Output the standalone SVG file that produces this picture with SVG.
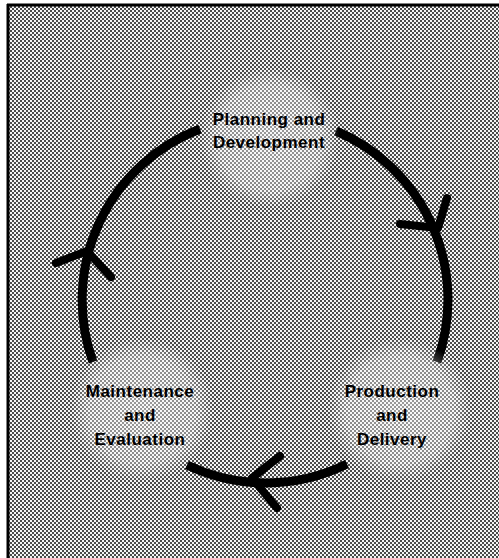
<svg xmlns="http://www.w3.org/2000/svg" width="499" height="558" viewBox="0 0 499 558">
  <defs>
    <pattern id="dither" width="4" height="4" patternUnits="userSpaceOnUse">
      <rect width="4" height="4" fill="#f4f4f4"/>
      <rect x="0" y="0" width="2" height="2" fill="#4a4a4a"/>
      <rect x="2" y="2" width="2" height="2" fill="#4a4a4a"/>
    </pattern>
    <radialGradient id="glow">
      <stop offset="0" stop-color="#ffffff" stop-opacity="0.45"/>
      <stop offset="0.75" stop-color="#ffffff" stop-opacity="0.35"/>
      <stop offset="1" stop-color="#ffffff" stop-opacity="0"/>
    </radialGradient>
  </defs>
  <style>
    .arc { fill: none; stroke: #000; stroke-width: 9; stroke-linecap: butt; }
    .head { fill: none; stroke: #000; stroke-width: 8; stroke-linecap: round; stroke-linejoin: round; }
    .lbl { font-family: "Liberation Sans", Arial, sans-serif; font-weight: bold; font-size: 17px; fill: #000; text-anchor: middle; letter-spacing: 0.5px; }
    .glow { fill: url(#glow); }
  </style>
  <rect width="499" height="558" fill="#ffffff"/>
  <rect x="8" y="5" width="491" height="553" fill="url(#dither)"/>
  <line x1="7" y1="5" x2="499" y2="5" stroke="#000" stroke-width="3"/>
  <line x1="8" y1="4" x2="8" y2="558" stroke="#000" stroke-width="3"/>

  <g id="connectors">
    <path class="arc" d="M336,131 A183,183 0 0 1 437,362"/>
    <polyline class="head" points="400,224 438,228 447,198"/>
    <path class="arc" d="M347,464 A183,183 0 0 1 187,465"/>
    <polyline class="head" points="280,456 252,478 277,508"/>
    <path class="arc" d="M93,362 A183,183 0 0 1 200,129"/>
    <polyline class="head" points="56,263 87,251 111,277"/>
  </g>

  <g id="planning">
    <circle class="glow" cx="270" cy="138" r="70"/>
    <text class="lbl" x="269" y="125">Planning and</text>
    <text class="lbl" x="269" y="148">Development</text>
  </g>
  <g id="production">
    <circle class="glow" cx="400" cy="410" r="72"/>
    <text class="lbl" x="392" y="397">Production</text>
    <text class="lbl" x="392" y="421">and</text>
    <text class="lbl" x="392" y="445">Delivery</text>
  </g>
  <g id="maintenance">
    <circle class="glow" cx="142" cy="410" r="72"/>
    <text class="lbl" x="140" y="397">Maintenance</text>
    <text class="lbl" x="140" y="421">and</text>
    <text class="lbl" x="140" y="445">Evaluation</text>
  </g>
</svg>
